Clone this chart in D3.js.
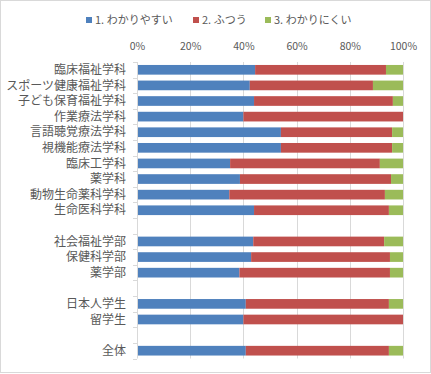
<!DOCTYPE html>
<html>
<head>
<meta charset="utf-8">
<script src="https://cdn.jsdelivr.net/npm/d3@7"></script>
<style>
  body { margin: 0; background: #fff; }
  text { font-family: "Noto Sans CJK JP", "Noto Sans", sans-serif; }
</style>
</head>
<body>
<div id="chart"></div>
<script>
// categories (blank strings are the empty spacer rows)
var categories = [
    "臨床福祉学科", "スポーツ健康福祉学科", "子ども保育福祉学科", "作業療法学科",
    "言語聴覚療法学科", "視機能療法学科", "臨床工学科", "薬学科",
    "動物生命薬科学科", "生命医科学科", "",
    "社会福祉学部", "保健科学部", "薬学部", "",
    "日本人学生", "留学生", "",
    "全体"
];
var series_names = ["1. わかりやすい", "2. ふつう", "3. わかりにくい"];
var easy = [44.4, 42.4, 44.0, 40.0, 54.1, 54.1, 35.0, 38.7, 34.7, 44.0, null,
            43.7, 42.9, 38.5, null, 40.9, 40.0, null, 40.9];
var normal = [49.2, 46.3, 52.2, 60.0, 41.8, 41.8, 56.3, 56.8, 58.5, 50.7, null,
              49.2, 52.2, 56.6, null, 53.8, 60.0, null, 53.8];
var hard = [6.4, 11.3, 3.8, 0, 4.1, 4.1, 8.7, 4.5, 6.8, 5.3, null,
            7.1, 4.9, 4.9, null, 5.3, 0, null, 5.3];
var x_ticks = [0, 20, 40, 60, 80, 100];
var colours = ["#4f81bd", "#c0504d", "#9bbb59"];

var width = 431, height = 374;

var svg = d3.select("#chart").append("svg")
    .attr("width", width)
    .attr("height", height);

// chart frame
svg.append("rect")
    .attr("x", 0.5).attr("y", 0.5)
    .attr("width", width - 1).attr("height", height - 2)
    .style("fill", "#fff")
    .style("stroke", "#d9d9d9");

var rows = categories.map(function (c, i) {
    return { i: i, label: c, v: [easy[i], normal[i], hard[i]] };
});

var x = d3.scaleLinear().domain([0, 100]).range([137, 403]);
var y = d3.scaleBand()
    .domain(d3.range(categories.length))
    .range([62, 358.5])
    .paddingInner(0.38)
    .paddingOuter(0.19);

// gridlines
svg.append("g")
    .selectAll("line")
    .data(x_ticks.slice(1))
    .enter().append("line")
    .attr("x1", function (d) { return Math.round(x(d)) + 0.5; })
    .attr("x2", function (d) { return Math.round(x(d)) + 0.5; })
    .attr("y1", 62).attr("y2", 358.5)
    .style("stroke", "#d9d9d9");

// top axis labels
var xAxis = svg.append("g")
    .attr("transform", "translate(0,46)")
    .call(d3.axisTop(x).tickValues(x_ticks)
        .tickFormat(function (d) { return d + "%"; })
        .tickSize(0).tickPadding(0));
xAxis.select(".domain").remove();
xAxis.selectAll("text")
    .attr("dy", "0.35em")
    .style("font-size", "10.5px")
    .style("fill", "#595959");

// stacked bars
var stacked = rows.filter(function (r) { return r.label !== ""; });
stacked.forEach(function (r) {
    var start = 0;
    r.segs = r.v.map(function (v, k) {
        var s = { x0: start, x1: start + v, k: k };
        start += v;
        return s;
    });
});

svg.append("g")
    .selectAll("g")
    .data(stacked)
    .enter().append("g")
    .selectAll("rect")
    .data(function (r) { return r.segs.map(function (s) { s.i = r.i; return s; }); })
    .enter().append("rect")
    .attr("x", function (d) { return x(d.x0); })
    .attr("width", function (d) { return x(d.x1) - x(d.x0); })
    .attr("y", function (d) { return y(d.i); })
    .attr("height", y.bandwidth())
    .style("fill", function (d) { return colours[d.k]; });

// left axis with boundary ticks
var step = y.step();
var yAxis = svg.append("g");
yAxis.append("line")
    .attr("x1", 137.5).attr("x2", 137.5)
    .attr("y1", 62).attr("y2", 358.5)
    .style("stroke", "#d9d9d9");
yAxis.selectAll(".tick-mark")
    .data(d3.range(categories.length + 1))
    .enter().append("line")
    .attr("class", "tick-mark")
    .attr("x1", 133).attr("x2", 137)
    .attr("y1", function (d) { return Math.round(62 + d * step) + 0.5; })
    .attr("y2", function (d) { return Math.round(62 + d * step) + 0.5; })
    .style("stroke", "#d9d9d9");
yAxis.selectAll(".cat")
    .data(rows)
    .enter().append("text")
    .attr("class", "cat")
    .attr("x", 126)
    .attr("y", function (d) { return y(d.i) + y.bandwidth() / 2; })
    .attr("dy", "0.35em")
    .attr("text-anchor", "end")
    .style("font-size", "12px")
    .style("fill", "#595959")
    .text(function (d) { return d.label; });

// legend
var legend_x = [86, 193, 265];
var legend = svg.append("g")
    .selectAll("g")
    .data(series_names)
    .enter().append("g")
    .attr("transform", function (d, i) { return "translate(" + legend_x[i] + ",17)"; });
legend.append("rect")
    .attr("width", 6).attr("height", 6)
    .attr("y", 0)
    .style("fill", function (d, i) { return colours[i]; });
legend.append("text")
    .attr("x", 9)
    .attr("y", 3)
    .attr("dy", "0.35em")
    .style("font-size", "11px")
    .style("fill", "#595959")
    .text(function (d) { return d; });
</script>
</body>
</html>
